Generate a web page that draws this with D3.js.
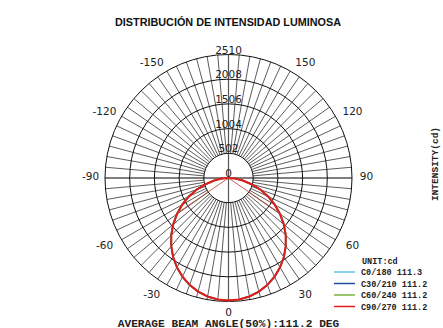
<!DOCTYPE html>
<html>
<head>
<meta charset="utf-8">
<script src="https://cdn.jsdelivr.net/npm/d3@7"></script>
<style>
  html, body { margin: 0; padding: 0; background: #fff; }
  svg { display: block; }
</style>
</head>
<body>
<svg id="chart" width="443" height="328"></svg>
<script>
// Gamma angles (degrees from nadir) at which intensities are given
const gammaAngles = [0, 5, 10, 15, 20, 25, 30, 35, 40, 45, 50, 55, 60, 65, 70, 75, 80, 85, 90];

// Luminous intensity (cd) per C-plane, one value per gamma angle
const c0_180  = [2490, 2480, 2447, 2392, 2316, 2220, 2104, 1970, 1820, 1656, 1478, 1290, 1098, 900, 700, 480, 300, 145, 0];
const c30_210 = [2490, 2479, 2445, 2389, 2311, 2213, 2095, 1962, 1810, 1645, 1468, 1282, 1092, 892, 690, 475, 298, 143, 0];
const c60_240 = [2490, 2479, 2445, 2389, 2311, 2213, 2096, 1964, 1813, 1650, 1474, 1288, 1098, 896, 692, 476, 298, 143, 0];
const c90_270 = [2490, 2479, 2445, 2389, 2311, 2213, 2095, 1960, 1808, 1643, 1465, 1278, 1084, 886, 687, 470, 295, 140, 0];

const seriesNames  = ["C0/180", "C30/210", "C60/240", "C90/270"];
const seriesBeams  = ["111.3", "111.2", "111.2", "111.2"];
const seriesColors = ["#5ec4e6", "#1f4f9a", "#7cb342", "#e01b1b"];

// Axis ticks
const ringTicks  = [0, 502, 1004, 1506, 2008, 2510];
const angleTicks = [-150, -120, -90, -60, -30, 0, 30, 60, 90, 120, 150];
const spokeAngles = d3.range(-175, 181, 5);

const averageBeam = "111.2";
const halfBeam = 55.6;          // half of the average beam angle
const halfBeamIntensity = 1245; // 50 % of the peak

const svg = d3.select("#chart");
const cx = 228.5, cy = 178, R = 123.5;
const rScale = d3.scaleLinear().domain([0, ringTicks[ringTicks.length - 1]]).range([0, R]);
const rad = d => d * Math.PI / 180;
const px = (g, v) => cx + rScale(v) * Math.sin(rad(g));
const py = (g, v) => cy + rScale(v) * Math.cos(rad(g));

// Title
svg.append("text")
  .attr("x", 228).attr("y", 26)
  .attr("text-anchor", "middle")
  .attr("font-family", "Liberation Sans, Arial, sans-serif")
  .attr("font-weight", "bold")
  .attr("font-size", 10.5)
  .attr("fill", "#111")
  .attr("textLength", 226).attr("lengthAdjust", "spacingAndGlyphs")
  .text("DISTRIBUCIÓN DE INTENSIDAD LUMINOSA");

const grid = svg.append("g");

// Radial spokes every 5 degrees from the first ring outward
grid.selectAll("line.spoke")
  .data(spokeAngles.filter(a => a % 90 !== 0))
  .join("line")
  .attr("x1", a => px(a, ringTicks[1])).attr("y1", a => py(a, ringTicks[1]))
  .attr("x2", a => px(a, ringTicks[5])).attr("y2", a => py(a, ringTicks[5]))
  .attr("stroke", "#4a4a4a").attr("stroke-width", 0.9);

// Vertical axis through the centre
grid.append("line")
  .attr("x1", px(180, ringTicks[5])).attr("y1", py(180, ringTicks[5]))
  .attr("x2", px(0, ringTicks[5])).attr("y2", py(0, ringTicks[5]))
  .attr("stroke", "#555").attr("stroke-width", 1.2);

// Horizontal axis through the centre
grid.append("line")
  .attr("x1", px(-90, ringTicks[5])).attr("y1", py(-90, ringTicks[5]))
  .attr("x2", px(90, ringTicks[5])).attr("y2", py(90, ringTicks[5]))
  .attr("stroke", "#000").attr("stroke-width", 1.2);

// Intensity rings
grid.selectAll("circle.ring")
  .data(ringTicks.slice(1))
  .join("circle")
  .attr("cx", cx).attr("cy", cy)
  .attr("r", d => rScale(d))
  .attr("fill", "none")
  .attr("stroke", "#111").attr("stroke-width", 1);

// Ring labels along the top of the vertical axis
svg.selectAll("text.ringlab")
  .data(ringTicks)
  .join("text")
  .attr("x", cx).attr("y", d => cy - rScale(d) - 1)
  .attr("text-anchor", "middle")
  .attr("font-family", "DejaVu Sans, sans-serif")
  .attr("font-size", 10.5)
  .attr("fill", "#222")
  .text(d => d);

// Angle labels outside the outer ring, pushed sideways as they approach the vertical
svg.selectAll("text.anglab")
  .data(angleTicks)
  .join("text")
  .attr("x", a => {
    const s = Math.sin(rad(a)), c = Math.abs(Math.cos(rad(a)));
    return cx + 138 * s + 9 * Math.sign(s) * c;
  })
  .attr("y", a => cy + 134 * Math.cos(rad(a)) - (Math.abs(a) === 90 ? 2 : 0))
  .attr("text-anchor", "middle")
  .attr("dominant-baseline", "central")
  .attr("font-family", "DejaVu Sans, sans-serif")
  .attr("font-size", 10.5)
  .attr("fill", "#222")
  .text(a => a);

// Intensity curves, mirrored over both halves of each C-plane
const allSeries = [c0_180, c30_210, c60_240, c90_270];
const radial = d3.lineRadial()
  .angle(d => Math.PI - rad(d[0]))
  .radius(d => rScale(d[1]));

const curves = svg.append("g").attr("transform", `translate(${cx},${cy})`);
allSeries.forEach((vals, i) => {
  const pts = gammaAngles.map((g, k) => [-g, vals[k]]).reverse()
    .concat(gammaAngles.slice(1).map((g, k) => [g, vals[k + 1]]));
  curves.append("path")
    .attr("d", radial(pts))
    .attr("fill", "none")
    .attr("stroke", seriesColors[i])
    .attr("stroke-width", i === 3 ? 2 : 1.5);
});

// Half-beam-angle markers
[-halfBeam, halfBeam].forEach(g => {
  curves.append("line")
    .attr("x1", 0).attr("y1", 0)
    .attr("x2", rScale(halfBeamIntensity) * Math.sin(rad(g)))
    .attr("y2", rScale(halfBeamIntensity) * Math.cos(rad(g)))
    .attr("stroke", "#c0503c").attr("stroke-width", 0.9);
});

// Legend
const mono = "Liberation Mono, Courier New, monospace";
svg.append("text")
  .attr("x", 362).attr("y", 264)
  .attr("font-family", mono).attr("font-weight", "bold")
  .attr("font-size", 8.5).attr("fill", "#222")
  .text("UNIT:cd");

const legend = svg.selectAll("g.leg")
  .data(seriesNames)
  .join("g")
  .attr("transform", (d, i) => `translate(0, ${272 + i * 11.5})`);
legend.append("line")
  .attr("x1", 334).attr("x2", 355)
  .attr("stroke", (d, i) => seriesColors[i]).attr("stroke-width", 1.5);
legend.append("text")
  .attr("x", 361).attr("y", 3)
  .attr("font-family", mono).attr("font-weight", "bold")
  .attr("font-size", 8.5).attr("fill", "#222")
  .text((d, i) => `${d} ${seriesBeams[i]}`);

// Axis title on the right
svg.append("text")
  .attr("transform", "translate(438, 164) rotate(-90)")
  .attr("text-anchor", "middle")
  .attr("font-family", mono).attr("font-weight", "bold")
  .attr("font-size", 9.5).attr("fill", "#222")
  .text("INTENSITY(cd)");

// Average beam angle caption
svg.append("text")
  .attr("x", 228.5).attr("y", 326.5)
  .attr("text-anchor", "middle")
  .attr("font-family", mono).attr("font-weight", "bold")
  .attr("font-size", 11.2).attr("fill", "#222")
  .text(`AVERAGE BEAM ANGLE(50%):${averageBeam} DEG`);
</script>
</body>
</html>
